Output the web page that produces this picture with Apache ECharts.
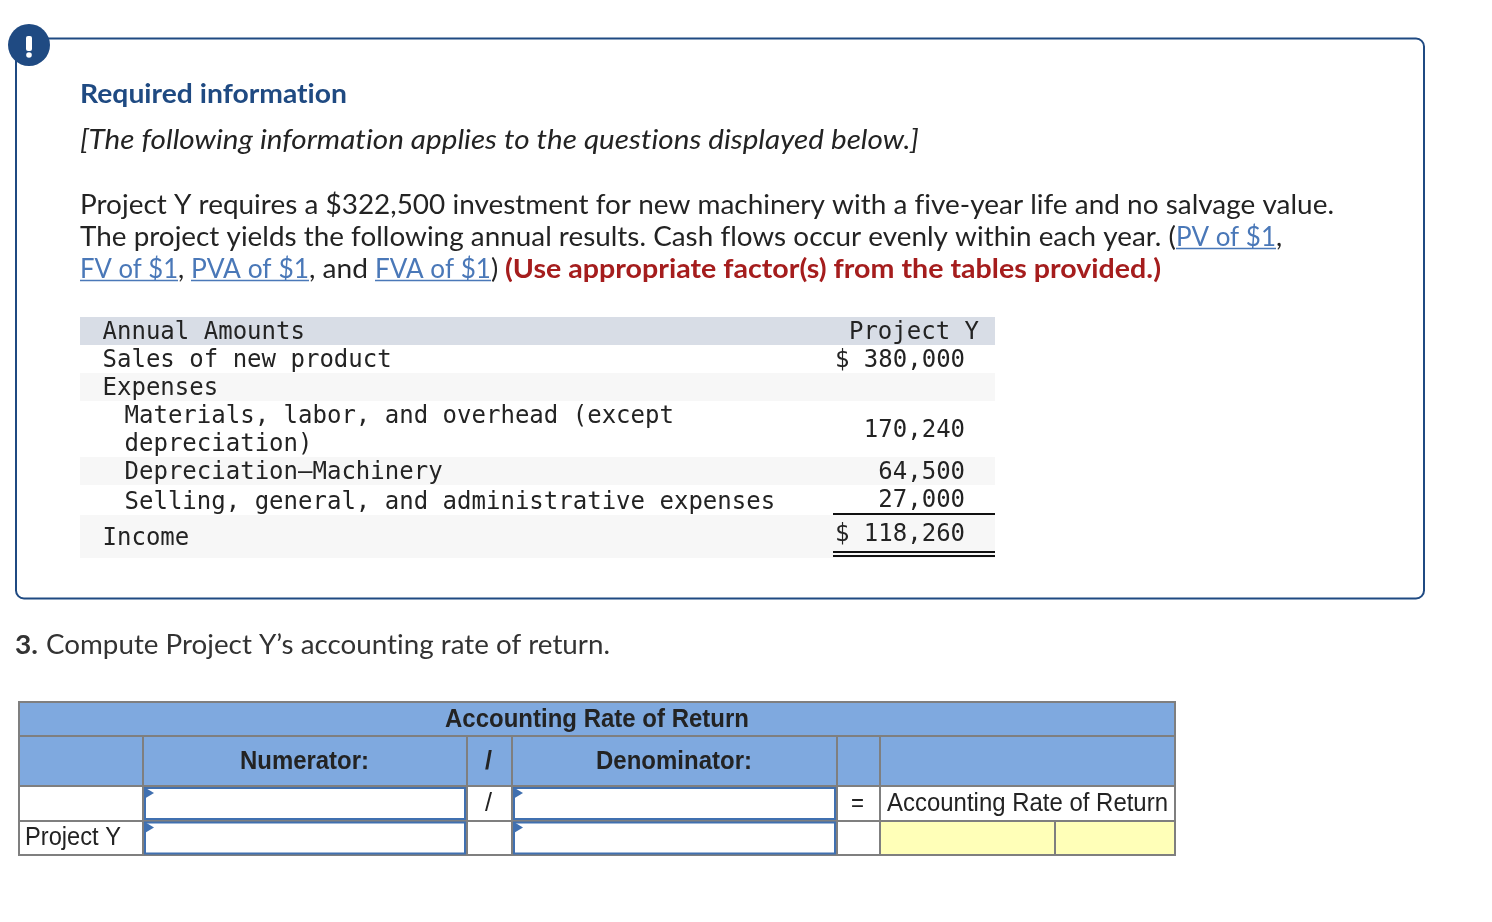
<!DOCTYPE html>
<html><head><meta charset="utf-8">
<style>html,body{margin:0;padding:0;background:#fff}#c{width:1492px;height:922px}</style>
<script src="https://cdn.jsdelivr.net/npm/echarts@6/dist/echarts.min.js"></script></head>
<body><div id="c"></div>
<script>
// ---- content ----
const requiredTitle = "Required information";
const noteLine = "[The following information applies to the questions displayed below.]";
const paragraphLine1 = "Project Y requires a $322,500 investment for new machinery with a five-year life and no salvage value.";
const paragraphLine2 = "The project yields the following annual results. Cash flows occur evenly within each year. (";
const factorLinks = ["PV of $1", "FV of $1", "PVA of $1", "FVA of $1"];
const instruction = "(Use appropriate factor(s) from the tables provided.)";
const questionNumber = "3.";
const questionText = "Compute Project Y\u2019s accounting rate of return.";
const rowLabels = ["Annual Amounts", "Sales of new product", "Expenses", "Materials, labor, and overhead (except", "depreciation)", "Depreciation\u2014Machinery", "Selling, general, and administrative expenses", "Income"];
const rowValues = ["Project Y", "$ 380,000", "170,240", "64,500", "27,000", "$ 118,260"];
const answerTitle = "Accounting Rate of Return";
const answerHeads = ["Numerator:", "/", "Denominator:"];
const answerRow = ["/", "=", "Accounting Rate of Return"];
const answerRowName = "Project Y";

// ---- drawing helpers ----
const BODY = "Lato", MONO = "'DejaVu Sans Mono'", ARIAL = "'Liberation Sans'";
const INK = "#232323", NAVY = "#1f4a82", LINK = "#4a78b8", RED = "#a51d1d", GRID = "#7f7f7f", HEAD = "#7fa9df";
// the reference face has no ti/fi ligatures: a tiny letter spacing switches them off
const nativeFill = CanvasRenderingContext2D.prototype.fillText;
CanvasRenderingContext2D.prototype.fillText = function (s, x, y, m) {
  this.letterSpacing = "0.01px";
  return nativeFill.call(this, s, x, y, m);
};
const mc = document.createElement("canvas").getContext("2d");
mc.letterSpacing = "0.01px";
const els = [];
let z = 1;
function rect(x, y, w, h, fill, extra) {
  els.push({type:"rect", z:z++, shape:Object.assign({x,y,width:w,height:h}, extra&&extra.shape||{}),
    style:Object.assign({fill}, extra&&extra.style||{})});
}
function line(x1, y1, x2, y2, stroke, lw) {
  els.push({type:"line", z:z++, shape:{x1,y1,x2,y2}, style:{stroke, lineWidth:lw}});
}
// text placed by left edge and baseline, with its width fitted to the reference
const topToBaseline = {[BODY]:21.5, [MONO]:18, [ARIAL]:19.5};
function text(s, x, y, font, fill, w) {
  mc.font = font;
  const actual = mc.measureText(s).width;
  const sx = w ? w/actual : 1;
  const fam = [BODY,MONO,ARIAL].find(f=>font.indexOf(f)>=0);
  els.push({type:"text", z:z++, x, y:y-topToBaseline[fam], originX:0, originY:0, scaleX:sx, scaleY:1,
    style:{text:s, font, fill, x:0, y:0}});
}
function link(s, x, y, w) {
  text(s, x, y, `27px ${BODY}`, LINK, w);
  line(x, y+3.5, x+w, y+3.5, LINK, 1.5);
}

// ---- info box ----
rect(16, 38.5, 1408, 560, "#fff", {shape:{r:8}, style:{stroke:NAVY, lineWidth:2}});
els.push({type:"circle", z:z++, shape:{cx:29,cy:45,r:21}, style:{fill:NAVY}});
rect(26, 36, 6, 15, "#fff", {shape:{r:2}});
els.push({type:"circle", z:z++, shape:{cx:29,cy:55,r:2.8}, style:{fill:"#fff"}});

text(requiredTitle, 80, 102, `bold 27px ${BODY}`, NAVY, 267);
text(noteLine, 80, 148, `italic 27px ${BODY}`, INK, 839);
text(paragraphLine1, 80, 213, `27px ${BODY}`, INK, 1254);
text(paragraphLine2, 80, 245, `27px ${BODY}`, INK, 1096);
link(factorLinks[0], 1176, 245, 100);
text(",", 1276, 245, `27px ${BODY}`, INK);
link(factorLinks[1], 80, 277, 98);
text(",", 178, 277, `27px ${BODY}`, INK);
link(factorLinks[2], 191, 277, 118);
text(", and", 309, 277, `27px ${BODY}`, INK, 59);
link(factorLinks[3], 375, 277, 116);
text(")", 491, 277, `27px ${BODY}`, INK);
text(instruction, 505, 277, `bold 27px ${BODY}`, RED, 656);

// ---- amounts table ----
rect(80, 317, 915, 28, "#d8dde6");
rect(80, 373, 915, 28, "#f7f7f7");
rect(80, 457, 915, 28, "#f7f7f7");
rect(80, 515, 915, 43, "#f7f7f7");
const mono = `24px ${MONO}`;
const labelPlace = [[102.5,339],[102.5,367],[102.5,395],[124.5,423],[124.5,451],[124.5,479],[124.5,509],[102.5,545]];
rowLabels.forEach((s,i)=>text(s, labelPlace[i][0], labelPlace[i][1], mono, INK));
const rightEdge = [979,965,965,965,965,965], valueBase = [339,367,437,479,507,541];
rowValues.forEach((s,i)=>text(s, rightEdge[i]-s.length*14.45, valueBase[i], mono, INK));
line(833, 514, 995, 514, "#111", 2);
line(833, 552, 995, 552, "#111", 2);
line(833, 556, 995, 556, "#111", 2);

// ---- question ----
text(questionNumber, 15, 653, `bold 27px ${BODY}`, "#333", 23);
text(questionText, 46, 653, `27px ${BODY}`, "#333", 564);

// ---- answer table ----
rect(19, 702, 1156, 84, HEAD);
rect(881, 821, 294, 34, "#ffffb8");
const hl = [[18,1176,702],[18,1176,736],[18,1176,786],[18,1176,821],[18,1176,855]];
hl.forEach(l=>line(l[0],l[2],l[1],l[2],GRID,2));
const vl = [[19,702,856],[143,736,856],[467,736,856],[512,736,856],[837,736,856],[880,736,856],[1055,821,856],[1175,702,856]];
vl.forEach(l=>line(l[0],l[1],l[0],l[2],GRID,2));
[[145,788,320,31],[145,822.5,320,31],[514,788,321,31],[514,822.5,321,31]].forEach(b=>{
  rect(b[0],b[1],b[2],b[3],"#fff",{style:{stroke:"#4070b0",lineWidth:2}});
  els.push({type:"polygon", z:z++, shape:{points:[[b[0]-1,b[1]-1],[b[0]+9,b[1]+5],[b[0]-1,b[1]+11]]}, style:{fill:"#4070b0"}});
});
const bold = `bold 25px ${ARIAL}`, reg = `25px ${ARIAL}`;
text(answerTitle, 445, 727, bold, INK, 304);
text(answerHeads[0], 240, 769, bold, INK, 129);
text(answerHeads[1], 485, 769, bold, INK, 7);
text(answerHeads[2], 596, 769, bold, INK, 156);
text(answerRow[0], 485, 811, reg, INK, 7);
text(answerRow[1], 851, 811, reg, INK, 13);
text(answerRow[2], 887, 811, reg, INK, 281);
text(answerRowName, 25, 845, reg, INK, 96);

const chart = echarts.init(document.getElementById("c"), null, {renderer:"canvas"});
chart.setOption({animation:false, backgroundColor:"#fff", graphic:{elements:els}});
</script></body></html>
